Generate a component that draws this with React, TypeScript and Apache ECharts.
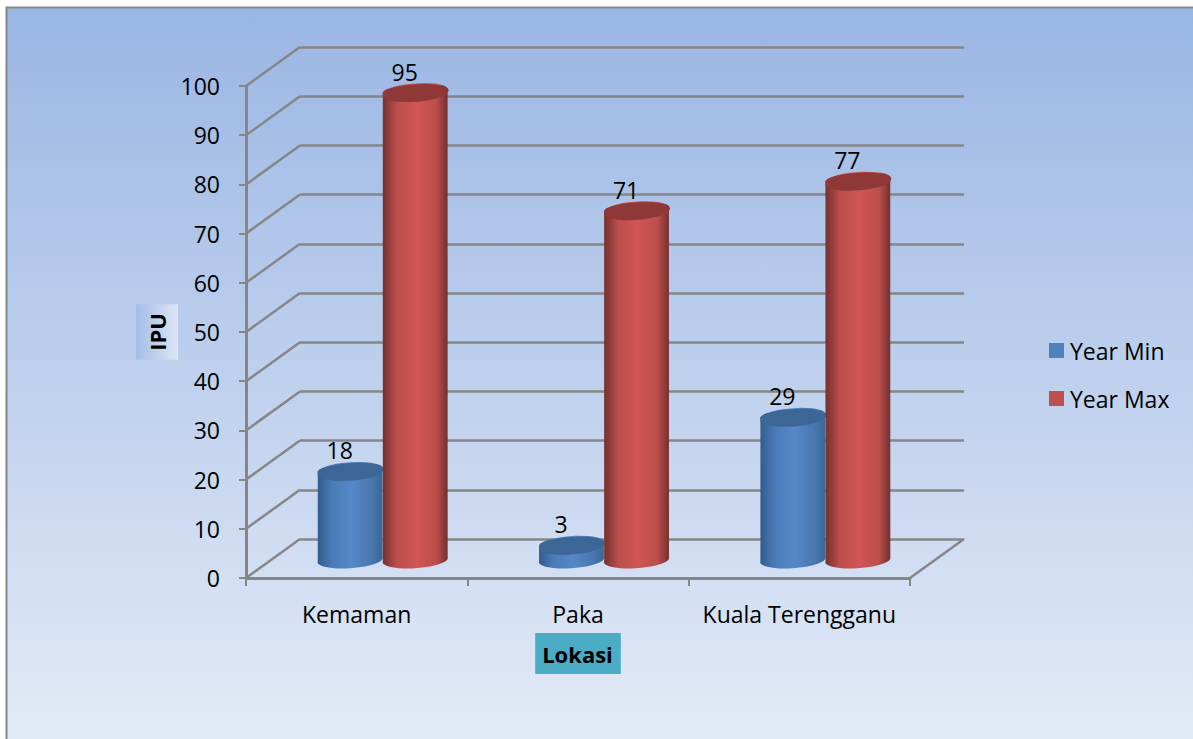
import React, { useEffect, useRef } from "react";
import * as echarts from "echarts";

const categories = ["Kemaman", "Paka", "Kuala Terengganu"];
const yearMin = [18, 3, 29];
const yearMax = [95, 71, 77];
const yTicks = [0, 10, 20, 30, 40, 50, 60, 70, 80, 90, 100];

const FONT = "Open Sans";
const AXIS = "#868686";
const DX = 54;
const DY = -39;

function cylinder(
  params: any,
  api: any,
  side: number,
  colors: { edgeL: string; shoulderL: string; mid: string; shoulderR: string; edgeR: string; top: string }
) {
  const idx = api.value(0);
  const val = api.value(1);
  const band = api.size([1, 0])[0];
  const [cx0, y] = api.coord([idx, val]);
  const [, y0] = api.coord([idx, 0]);
  const rx = band * 0.147;
  const ry = 8;
  const tilt = (4 * Math.PI) / 180;
  const cx = cx0 + 26 + side * rx;
  const topY = y - 18;
  const baseY = y0 - 19;
  const ex = rx * Math.cos(tilt);
  const ey = rx * Math.sin(tilt);
  const body =
    `M${cx - ex} ${topY + ey}L${cx - ex} ${baseY + ey}` +
    `A${rx} ${ry} -4 0 0 ${cx + ex} ${baseY - ey}` +
    `L${cx + ex} ${topY - ey}` +
    `A${rx} ${ry} -4 0 0 ${cx - ex} ${topY + ey}Z`;
  const top =
    `M${cx - ex} ${topY + ey}A${rx} ${ry} -4 1 0 ${cx + ex} ${topY - ey}` +
    `A${rx} ${ry} -4 1 0 ${cx - ex} ${topY + ey}Z`;
  return {
    type: "group",
    children: [
      {
        type: "path",
        shape: { pathData: body, x: cx - ex, y: topY - ry, width: 2 * ex, height: baseY - topY + 2 * ry, layout: "cover" },
        style: {
          fill: new echarts.graphic.LinearGradient(0, 0, 1, 0, [
            { offset: 0, color: colors.edgeL },
            { offset: 0.22, color: colors.shoulderL },
            { offset: 0.52, color: colors.mid },
            { offset: 0.82, color: colors.shoulderR },
            { offset: 1, color: colors.edgeR },
          ]),
        },
      },
      {
        type: "path",
        shape: { pathData: top, x: cx - ex, y: topY - ry, width: 2 * ex, height: 2 * ry, layout: "cover" },
        style: { fill: colors.top },
      },
      {
        type: "text",
        x: cx - 10.5,
        y: topY - 21,
        style: {
          text: String(val),
          fill: "#000",
          font: `23px ${FONT}`,
          align: "center",
          verticalAlign: "middle",
        },
      },
    ],
  };
}

const BLUE = { edgeL: "#315C8C", shoulderL: "#4A7BB8", mid: "#5588C9", shoulderR: "#4A78B0", edgeR: "#3A6696", top: "#3C6696" };
const RED = { edgeL: "#73302E", shoulderL: "#BC4E4B", mid: "#CF5654", shoulderR: "#BC4E4B", edgeR: "#73302E", top: "#8E3937" };

export default function App() {
  const ref = useRef<HTMLDivElement>(null);
  useEffect(() => {
    const chart = echarts.init(ref.current!, undefined, { renderer: "svg" });
    const labelStyle = { color: "#000", fontFamily: FONT, fontSize: 23 };
    chart.setOption({
      animation: false,
      graphic: [
        {
          type: "rect",
          z: -10,
          shape: { x: 6.5, y: 7.5, width: 1200, height: 745 },
          style: {
            fill: new echarts.graphic.LinearGradient(0, 0, 0, 1, [
              { offset: 0, color: "#9AB6E4" },
              { offset: 1, color: "#E4EBF7" },
            ]),
            stroke: AXIS,
            lineWidth: 2,
          },
        },
      ],
      legend: {
        orient: "vertical",
        left: 1049,
        top: 339,
        padding: 0,
        icon: "rect",
        itemWidth: 15,
        itemHeight: 15,
        itemGap: 25,
        textStyle: { ...labelStyle, padding: [0, 0, 0, 1] },
        data: ["Year Min", "Year Max"],
      },
      grid: [
        { left: 246, top: 86, width: 664, height: 492 },
        { left: 246 + DX, top: 86 + DY, width: 664, height: 492 },
      ],
      xAxis: [
        {
          type: "category",
          gridIndex: 0,
          data: categories,
          name: "Lokasi",
          nameLocation: "middle",
          nameGap: 55,
          nameMoveOverlap: false,
          nameTextStyle: {
            color: "#000",
            fontFamily: FONT,
            fontSize: 22,
            fontWeight: "bold",
            backgroundColor: "#4BACC6",
            padding: [10, 8, 9, 7],
          },
          axisLine: { lineStyle: { color: AXIS, width: 3 } },
          axisTick: { show: true, length: 8, lineStyle: { color: AXIS, width: 2 } },
          axisLabel: { ...labelStyle, margin: 24, interval: 0 },
          splitLine: { show: false },
        },
        { type: "category", gridIndex: 1, data: categories, show: false },
      ],
      yAxis: [
        {
          type: "value",
          gridIndex: 0,
          min: 0,
          max: 100,
          interval: 10,
          name: "IPU",
          nameLocation: "middle",
          nameGap: 68,
          nameMoveOverlap: false,
          nameTextStyle: {
            color: "#000",
            fontFamily: FONT,
            fontSize: 22,
            fontWeight: "bold",
            backgroundColor: new echarts.graphic.LinearGradient(0, 0, 0, 1, [
              { offset: 0, color: "#A4BDE8" },
              { offset: 1, color: "#DDE5F4" },
            ]),
            padding: [10, 9, 10, 9],
          },
          axisLine: { show: true, lineStyle: { color: AXIS, width: 3 } },
          axisTick: { show: true, length: 7, lineStyle: { color: AXIS, width: 2 } },
          axisLabel: { ...labelStyle, margin: 26, padding: [2, 0, 0, 0] },
          splitLine: { show: false },
        },
        {
          type: "value",
          gridIndex: 1,
          min: 0,
          max: 100,
          interval: 10,
          axisLine: { show: false },
          axisTick: { show: false },
          axisLabel: { show: false },
          splitLine: { show: true, lineStyle: { color: AXIS, width: 2.5 } },
        },
      ],
      series: [
        {
          type: "custom",
          name: "walls",
          silent: true,
          xAxisIndex: 0,
          yAxisIndex: 0,
          data: yTicks.map((v) => [v]),
          encode: { y: 0 },
          renderItem: (params: any, api: any) => {
            const v = api.value(0);
            const y = api.coord([0, v])[1];
            const x = params.coordSys.x;
            const children: any[] = [
              {
                type: "line",
                shape: { x1: x, y1: y, x2: x + DX, y2: y + DY },
                style: { stroke: AXIS, lineWidth: 2.5 },
              },
            ];
            if (v === 0) {
              const xr = x + params.coordSys.width;
              children.push({
                type: "line",
                shape: { x1: xr, y1: y, x2: xr + DX, y2: y + DY },
                style: { stroke: AXIS, lineWidth: 2.5 },
              });
            }
            return { type: "group", children };
          },
          z: 1,
        },
        {
          type: "custom",
          name: "Year Min",
          xAxisIndex: 0,
          yAxisIndex: 0,
          itemStyle: { color: "#4F81BD" },
          data: yearMin.map((v, i) => [i, v]),
          encode: { x: 0, y: 1 },
          renderItem: (p: any, api: any) => cylinder(p, api, -1, BLUE),
          z: 3,
        },
        {
          type: "custom",
          name: "Year Max",
          xAxisIndex: 0,
          yAxisIndex: 0,
          itemStyle: { color: "#C0504D" },
          data: yearMax.map((v, i) => [i, v]),
          encode: { x: 0, y: 1 },
          renderItem: (p: any, api: any) => cylinder(p, api, 1, RED),
          z: 4,
        },
      ],
    });
    return () => chart.dispose();
  }, []);
  return <div ref={ref} style={{ position: "absolute", left: 0, top: 0, width: 1193, height: 739 }} />;
}
